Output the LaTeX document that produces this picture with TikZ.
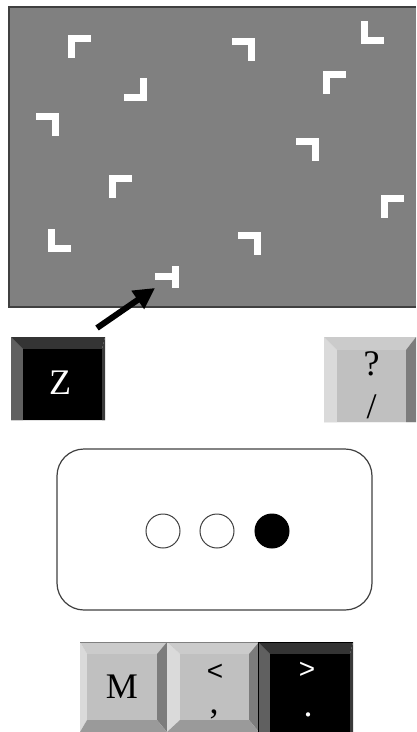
\documentclass[tikz,border=0pt]{standalone}
\usepackage{fontspec}
\setmainfont{Liberation Serif}
\newfontfamily\keysans{Liberation Sans}
\usetikzlibrary{arrows.meta}

% key colour schemes: L left, T top, R right, B bottom bevel, F face
\definecolor{lightL}{HTML}{DADADA}
\definecolor{lightT}{HTML}{CBCBCB}
\definecolor{lightR}{HTML}{7C7C7C}
\definecolor{lightB}{HTML}{9A9A9A}
\definecolor{lightF}{HTML}{C0C0C0}
\definecolor{darkL}{HTML}{606060}
\definecolor{darkT}{HTML}{343434}
\definecolor{darkR}{HTML}{3A3A3A}
\definecolor{darkB}{HTML}{1A1A1A}
\definecolor{darkF}{HTML}{000000}
\definecolor{panelgray}{HTML}{808080}
\definecolor{edgegray}{HTML}{404040}

% bevelled key: outer corners (#1,#2)-(#3,#4), face corners (#5,#6)-(#7,#8), scheme #9
\newcommand\bevelkey[9]{%
  \fill[#9L] (#1,#2) -- (#5,#6) -- (#5,#8) -- (#1,#4) -- cycle;
  \fill[#9T] (#1,#2) -- (#3,#2) -- (#7,#6) -- (#5,#6) -- cycle;
  \fill[#9R] (#3,#2) -- (#3,#4) -- (#7,#8) -- (#7,#6) -- cycle;
  \fill[#9B] (#1,#4) -- (#3,#4) -- (#7,#8) -- (#5,#8) -- cycle;
  \fill[#9F] (#5,#6) rectangle (#7,#8);
}

\tikzset{
  tl/.pic={\fill[white] (0,0) rectangle (23,7); \fill[white] (0,0) rectangle (7,23);},
  tr/.pic={\fill[white] (0,0) rectangle (23,7); \fill[white] (16,0) rectangle (23,23);},
  bl/.pic={\fill[white] (0,0) rectangle (7,23); \fill[white] (0,16) rectangle (23,23);},
  br/.pic={\fill[white] (16,0) rectangle (23,23); \fill[white] (0,16) rectangle (23,23);},
  keylabel/.style={inner sep=0pt, anchor=base, font=\fontsize{36}{36}\selectfont},
  symlabel/.style={inner sep=0pt, font=\keysans\fontsize{28}{28}\selectfont},
  dot/.style={circle, draw=edgegray, line width=1pt, minimum size=34pt, inner sep=0pt},
}

\begin{document}
\begin{tikzpicture}[x=1pt, y=-1pt]
\useasboundingbox (0,0) rectangle (416,732);

% search display
\fill[panelgray] (9,7) rectangle (416,307);
\draw[edgegray, line width=1.2pt] (416,7) -- (9,7) -- (9,307) -- (416,307);
\pic at (68,35) {tl};
\pic at (232,38) {tr};
\pic at (361,21) {bl};
\pic at (124,78) {br};
\pic at (323,71) {tl};
\pic at (36,113) {tr};
\pic at (296,138) {tr};
\pic at (109,175) {tl};
\pic at (381,195) {tl};
\pic at (48,229) {bl};
\pic at (238,232) {tr};
% the rotated T target
\fill[white] (155,273) rectangle (172,280);
\fill[white] (172,266) rectangle (179,288);
\coordinate (target) at (155,288);

% response keys
\bevelkey{11}{337}{105}{420}{23}{349}{102}{420}{dark}
\node[keylabel, text=white] (zkey) at (60,394) {Z};
\coordinate (ztop) at (97,328);
\bevelkey{324}{337}{416}{422}{337}{350}{406}{422}{light}
\node[keylabel] (qmark) at (371.5,375) {?};
\node[keylabel] (slash) at (371.5,418) {/};

\draw[-{Triangle[length=21pt,width=21pt]}, line width=6pt] (ztop) -- (target);

% feedback display
\draw[edgegray, line width=1.2pt, rounded corners=27pt] (57,449) rectangle (372,610);
\node[dot] (d1) at (163,531) {};
\node[dot] (d2) at (217,531) {};
\node[dot, fill=black, draw=black] (d3) at (272,531) {};

% bottom keyboard row
\bevelkey{80}{642}{167}{732}{87}{654}{157}{720}{light}
\bevelkey{167}{642}{259}{732}{180}{654}{249}{720}{light}
\draw[panelgray, line width=1pt] (80,642) -- (259,642);
\bevelkey{258}{642}{353}{732}{270}{654}{350}{732}{dark}
\draw[black, line width=1pt] (258.5,732) -- (258.5,642) -- (353,642);
\node[keylabel] (mkey) at (122,698) {M};
\node[symlabel] (lt) at (215,672.5) {<};
\node[keylabel] (comma) at (214,713) {,};
\node[symlabel, text=white] (gt) at (307,670.5) {>};
\node[keylabel, text=white] (period) at (308,716) {.};
\end{tikzpicture}
\end{document}
